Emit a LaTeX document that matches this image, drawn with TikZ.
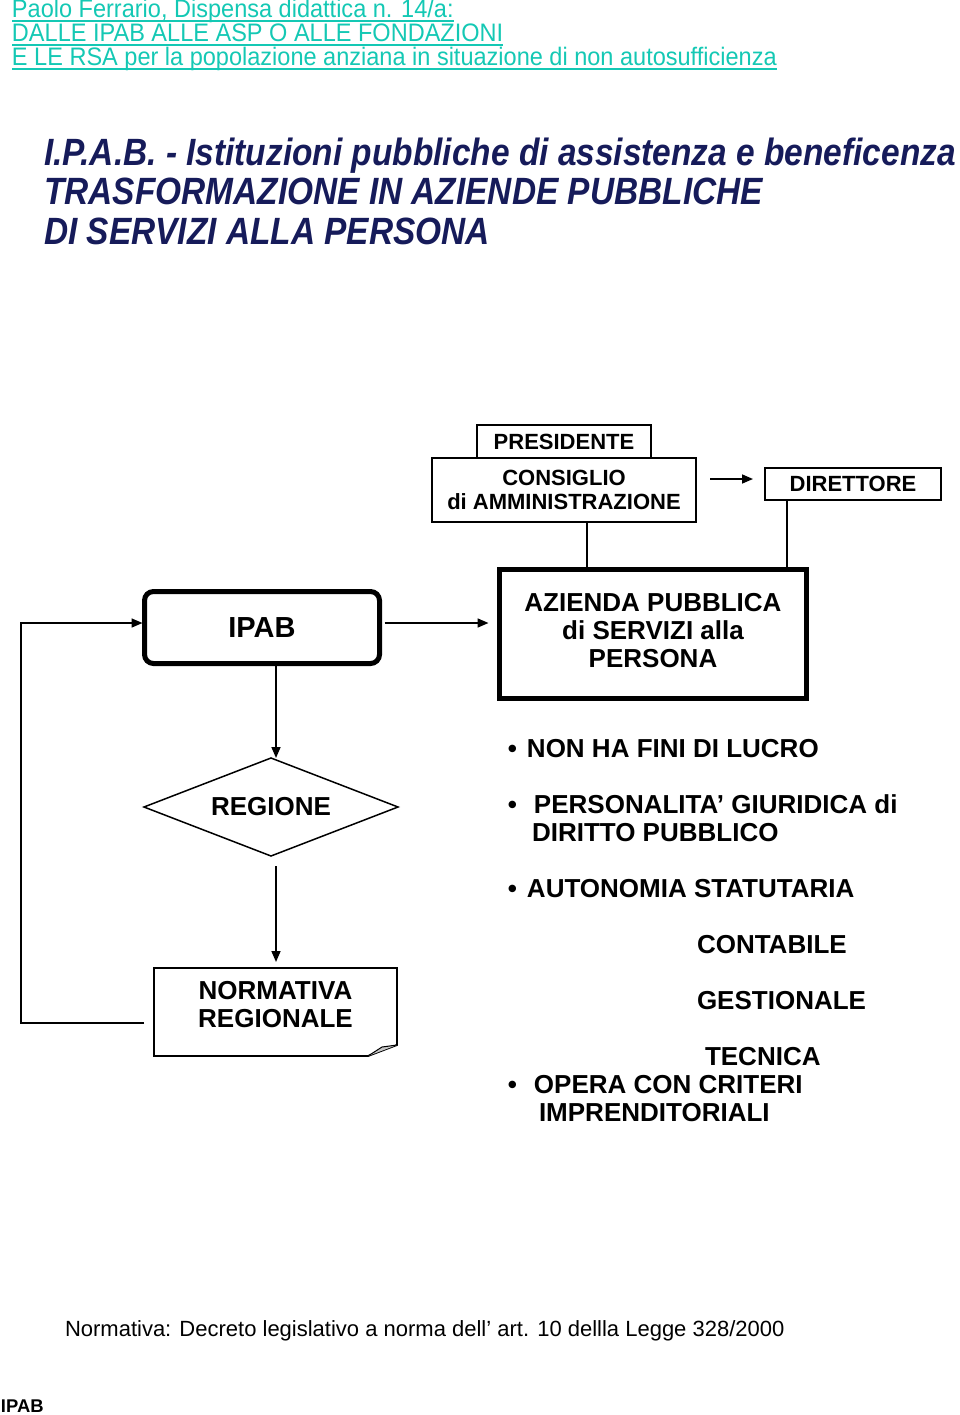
\documentclass[tikz,border=0pt]{standalone}
\usepackage{fontspec}
\setmainfont{Liberation Sans}
\newfontfamily\strettafont[FakeStretch=0.88]{Liberation Sans}
\newfontfamily\testatafont[FakeStretch=0.93]{Liberation Sans}
\usepackage{tikz}
\usetikzlibrary{arrows.meta}
\usetikzlibrary{calc}
\usetikzlibrary{positioning}
\usetikzlibrary{shapes.geometric}
\definecolor{turchese}{RGB}{20,200,180}
\definecolor{blunotte}{RGB}{22,27,90}
\newcommand{\grande}{\fontsize{26}{28}\selectfont}

\begin{document}
\begin{tikzpicture}[
	x=1pt, y=-1pt,
  > = {Triangle[length=11pt,width=9pt]},
  every node/.style = {inner sep=0pt, outer sep=0pt},
  riquadro/.style = {draw, line width=1.8pt, align=center, font=\bfseries\fontsize{22}{24}\selectfont},
  spesso/.style = {draw, line width=5pt, align=center, font=\bfseries\grande},
  voce/.style = {anchor=base west, align=left, font=\bfseries\grande},
  freccia/.style = {->, line width=1.6pt},
  intestazione/.style = {anchor=base west, text=turchese, font=\testatafont\fontsize{25.3}{24}\selectfont},
  titolo/.style = {anchor=base west, text=blunotte, font=\strettafont\bfseries\itshape\fontsize{38}{39}\selectfont}
  ]
	\useasboundingbox (0,0) rectangle (960,1415);

	% intestazione
	\node[intestazione] (riga1) at (12,18) {Paolo Ferrario, Dispensa didattica n. 14/a:};
	\node[intestazione] (riga2) at (12,42) {DALLE IPAB ALLE ASP O ALLE FONDAZIONI};
	\node[intestazione] (riga3) at (12,66) {E LE RSA per la popolazione anziana in situazione di non autosufficienza};
	\foreach \r in {riga1,riga2,riga3}
		\draw[turchese, line width=1.6pt] ([yshift=-3pt]\r.base west) -- ([yshift=-3pt]\r.base east);

	\node[titolo] (titolo1) at (44,166) {I.P.A.B. - Istituzioni pubbliche di assistenza e beneficenza};
	\node[titolo] (titolo2) at (44,205) {TRASFORMAZIONE IN AZIENDE PUBBLICHE};
	\node[titolo] (titolo3) at (44,244) {DI SERVIZI ALLA PERSONA};

	% organi
	\node[riquadro, minimum width=264pt, minimum height=64pt] (consiglio) at (564,490) {CONSIGLIO\\di AMMINISTRAZIONE};
	\node[riquadro, minimum width=174pt, minimum height=33pt, above=0pt of consiglio] (presidente) {PRESIDENTE};
	\node[riquadro, minimum width=176pt, minimum height=32pt] (direttore) at (853,484) {DIRETTORE};

	\node[spesso, minimum width=307pt, minimum height=129pt, text depth=8pt] (azienda) at (653,634) {AZIENDA PUBBLICA\\ di SERVIZI alla\\PERSONA};
	\node[spesso, rounded corners=9pt, minimum width=235pt, minimum height=72pt, font=\bfseries\fontsize{29}{31}\selectfont] (ipab) at (262,627.5) {IPAB};

	\node[diamond, draw, line width=1.5pt, aspect=2.6, minimum width=254pt, minimum height=98pt, font=\bfseries\grande] (regione) at (271,807) {REGIONE};

	\node[align=center, minimum width=243pt, minimum height=88pt, text depth=16pt, font=\bfseries\grande] (normativa) at (275.5,1012) {NORMATIVA\\REGIONALE};
	\draw[line width=1.8pt] (normativa.north west) -- (normativa.north east) -- ([yshift=11pt]normativa.south east)
		-- ([xshift=-29pt]normativa.south east) -- (normativa.south west) -- cycle;
	\draw[line width=1pt, fill=black!22] ([xshift=-29pt]normativa.south east) -- ([xshift=-15pt,yshift=9pt]normativa.south east)
		-- ([yshift=11pt]normativa.south east);

	% collegamenti
	\draw[freccia, shorten <=14pt, shorten >=12pt] ([yshift=11pt]consiglio.east) -- ([yshift=11pt]consiglio.east -| direttore.west);
	\draw[line width=1.6pt] ([xshift=23pt]consiglio.south) -- ([xshift=23pt]consiglio.south |- azienda.north);
	\draw[line width=1.6pt] ([xshift=-66pt]direttore.south) -- ([xshift=-66pt]direttore.south |- azienda.north);
	\draw[freccia, shorten <=5pt, shorten >=11pt] ([yshift=4.5pt]ipab.east) -- ([yshift=4.5pt]ipab.east -| azienda.west);
	\draw[freccia] ([xshift=14pt]ipab.south) -- ([xshift=14pt]ipab.south |- regione.north);
	\draw[freccia, shorten <=10pt, shorten >=6pt] ([xshift=0.5pt]regione.south -| normativa.north) -- ([xshift=0.5pt]normativa.north);

	\coordinate (angolo) at (21,1023);
	\draw[freccia, shorten <=10pt, shorten >=2pt] ([yshift=-11pt]normativa.west) -- (angolo) |- ([yshift=4.5pt]ipab.west);

	% caratteristiche
	\node[voce] (lucro) at (527,757) {\llap{\textbullet\hspace{10pt}}NON HA FINI DI LUCRO};
	\node[voce] (personalita) at (534,841) {\llap{\textbullet\hspace{17pt}}PERSONALITA’ GIURIDICA di\\\hspace{-2pt}DIRITTO PUBBLICO};
	\node[voce] (autonomia) at (527,897) {\llap{\textbullet\hspace{10pt}}AUTONOMIA STATUTARIA};
	\node[voce] (contabile) at (697,953) {CONTABILE};
	\node[voce] (gestionale) at (697,1009) {GESTIONALE};
	\node[voce] (tecnica) at (705,1065) {TECNICA};
	\node[voce] (criteri) at (534,1121) {\llap{\textbullet\hspace{17pt}}OPERA CON CRITERI\\\hspace{5pt}IMPRENDITORIALI};

	% piede
	\node[anchor=base west, font=\fontsize{22}{24}\selectfont] (decreto) at (65,1336) {Normativa: Decreto legislativo a norma dell’ art. 10 dellla Legge 328/2000};
	\node[anchor=base west, font=\bfseries\fontsize{18.4}{20}\selectfont] (piede) at (1,1412) {IPAB};

\end{tikzpicture}
\end{document}
